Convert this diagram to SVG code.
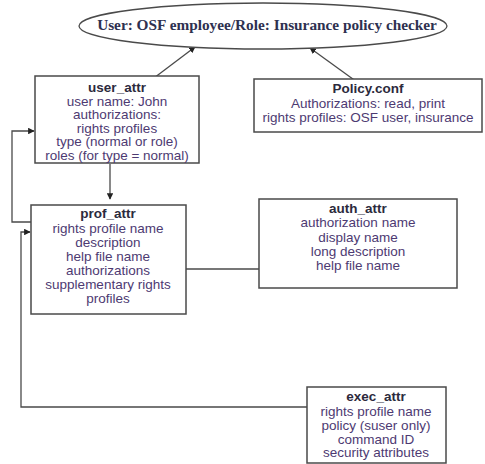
<svg xmlns="http://www.w3.org/2000/svg" width="485" height="464" viewBox="0 0 485 464">
  <style>
    .box { fill: #ffffff; stroke: #4a4a4a; stroke-width: 1.5; }
    .line { fill: none; stroke: #4a4a4a; stroke-width: 1.3; }
    .t { font-family: "Liberation Sans", Arial, sans-serif; font-size: 13.5px; fill: #4d3a72; text-anchor: middle; }
    .h { font-family: "Liberation Sans", Arial, sans-serif; font-size: 13.5px; font-weight: bold; fill: #2c2a3c; text-anchor: middle; }
    .title { font-family: "Liberation Serif", "Times New Roman", serif; font-size: 15.3px; font-weight: bold; fill: #2e3150; text-anchor: middle; }
  </style>
  <defs>
    <marker id="arrow" viewBox="0 0 10 10" refX="9" refY="5" markerWidth="5" markerHeight="5" orient="auto-start-reverse">
      <path d="M0,0 L10,5 L0,10 z" fill="#222222"/>
    </marker>
  </defs>
  <rect width="485" height="464" fill="#ffffff"/>

  <g id="connectors">
    <line class="line" x1="150" y1="81" x2="195" y2="47" marker-end="url(#arrow)"/>
    <line class="line" x1="357" y1="82" x2="310" y2="48" marker-end="url(#arrow)"/>
    <line class="line" x1="110" y1="164" x2="110" y2="199" marker-end="url(#arrow)"/>
    <polyline class="line" points="31,222 12,222 12,131 34,131" marker-end="url(#arrow)"/>
    <polyline class="line" points="307,407 21,407 21,232 30,232" marker-end="url(#arrow)"/>
    <line class="line" x1="186" y1="269" x2="259" y2="269"/>
  </g>

  <g id="role">
    <ellipse cx="263" cy="26" rx="184" ry="23" fill="#ffffff" stroke="#4a4a4a" stroke-width="1.3"/>
    <text class="title" x="267" y="30">User: OSF employee/Role: Insurance policy checker</text>
  </g>

  <g id="user_attr">
    <rect class="box" x="35" y="76" width="164" height="87"/>
    <text class="h" x="117" y="92">user_attr</text>
    <text class="t" x="117" y="105.5">user name: John</text>
    <text class="t" x="117" y="119">authorizations:</text>
    <text class="t" x="117" y="132.5">rights profiles</text>
    <text class="t" x="117" y="146">type (normal or role)</text>
    <text class="t" x="117" y="159.5">roles (for type = normal)</text>
  </g>

  <g id="policy_conf">
    <rect class="box" x="254" y="79" width="228" height="53"/>
    <text class="h" x="368" y="93">Policy.conf</text>
    <text class="t" x="368" y="108">Authorizations: read, print</text>
    <text class="t" x="368" y="122">rights profiles: OSF user, insurance</text>
  </g>

  <g id="prof_attr">
    <rect class="box" x="31" y="205" width="155" height="109"/>
    <text class="h" x="108" y="218">prof_attr</text>
    <text class="t" x="108" y="233">rights profile name</text>
    <text class="t" x="108" y="247">description</text>
    <text class="t" x="108" y="261">help file name</text>
    <text class="t" x="108" y="275">authorizations</text>
    <text class="t" x="108" y="289">supplementary rights</text>
    <text class="t" x="108" y="302.5">profiles</text>
  </g>

  <g id="auth_attr">
    <rect class="box" x="259" y="199" width="198" height="89"/>
    <text class="h" x="358" y="213">auth_attr</text>
    <text class="t" x="358" y="227">authorization name</text>
    <text class="t" x="358" y="242">display name</text>
    <text class="t" x="358" y="256">long description</text>
    <text class="t" x="358" y="270">help file name</text>
  </g>

  <g id="exec_attr">
    <rect class="box" x="307" y="387" width="139" height="76"/>
    <text class="h" x="376" y="401">exec_attr</text>
    <text class="t" x="376" y="416">rights profile name</text>
    <text class="t" x="376" y="430">policy (suser only)</text>
    <text class="t" x="376" y="443.5">command ID</text>
    <text class="t" x="376" y="457">security attributes</text>
  </g>
</svg>
